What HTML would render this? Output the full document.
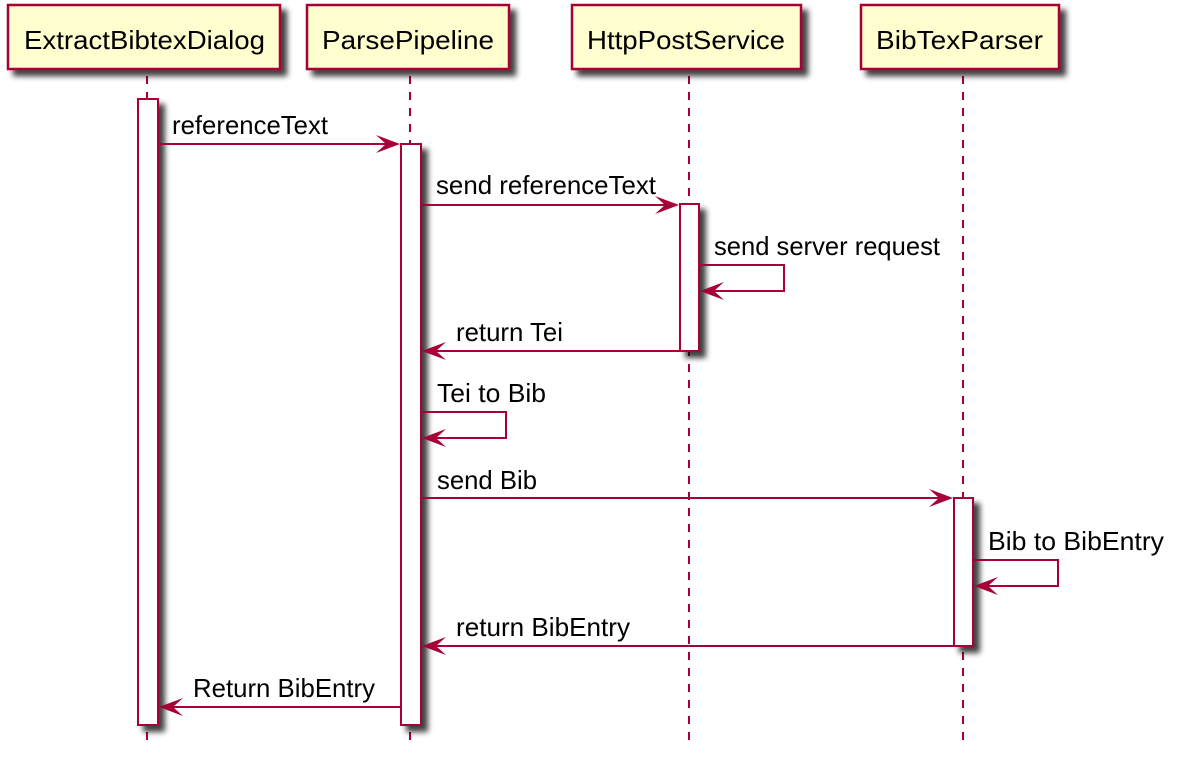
<!DOCTYPE html>
<html><head><meta charset="utf-8"><style>
html,body{margin:0;padding:0;background:#fff;}
svg{display:block;}
text{font-family:"Liberation Sans",sans-serif;font-size:26px;fill:#000;}
</style></head><body>
<svg width="1186" height="757" viewBox="0 0 1186 757" xmlns="http://www.w3.org/2000/svg">
<defs>
<filter id="sh" x="-50%" y="-50%" width="200%" height="200%">
<feGaussianBlur in="SourceAlpha" stdDeviation="3"/>
<feOffset dx="6" dy="6" result="b"/>
<feComponentTransfer><feFuncA type="linear" slope="0.75"/></feComponentTransfer>
<feMerge><feMergeNode/><feMergeNode in="SourceGraphic"/></feMerge>
</filter>
</defs>
<g stroke="#A80036" stroke-width="2" stroke-dasharray="8,8" fill="none">
<line x1="147" y1="76" x2="147" y2="745"/>
<line x1="410" y1="76" x2="410" y2="745"/>
<line x1="689" y1="76" x2="689" y2="745"/>
<line x1="963" y1="76" x2="963" y2="745"/>
</g>
<g fill="#FEFECE" stroke="#A80036" stroke-width="2.5" filter="url(#sh)">
<rect x="8" y="5" width="272" height="64"/>
<rect x="307" y="5" width="202" height="64"/>
<rect x="572" y="5" width="229" height="64"/>
<rect x="861" y="5" width="198" height="64"/>
</g>
<g style="font-size:27.5px">
<text x="24" y="49" textLength="241" lengthAdjust="spacingAndGlyphs">ExtractBibtexDialog</text>
<text x="322" y="49" textLength="172" lengthAdjust="spacingAndGlyphs">ParsePipeline</text>
<text x="587" y="49" textLength="198" lengthAdjust="spacingAndGlyphs">HttpPostService</text>
<text x="876" y="49" textLength="167" lengthAdjust="spacingAndGlyphs">BibTexParser</text>
</g>
<g fill="#fff" stroke="#A80036" stroke-width="2" filter="url(#sh)">
<rect x="138" y="99" width="20" height="626"/>
<rect x="401" y="144" width="20" height="581"/>
<rect x="680" y="204" width="19" height="147"/>
<rect x="954" y="498" width="19" height="148"/>
</g>
<g stroke="#A80036" stroke-width="2" fill="none">
<line x1="158" y1="144" x2="392" y2="144"/>
<line x1="421" y1="205" x2="671" y2="205"/>
<polyline points="699,265 784,265 784,291 707,291"/>
<line x1="680" y1="351" x2="429" y2="351"/>
<polyline points="421,412 506,412 506,438 429,438"/>
<line x1="421" y1="498" x2="945" y2="498"/>
<polyline points="973,560 1058,560 1058,586 981,586"/>
<line x1="954" y1="646" x2="429" y2="646"/>
<line x1="400" y1="707" x2="166" y2="707"/>
</g>
<g fill="#A80036">
<polygon points="400,144 376,135 386,144 376,153"/>
<polygon points="679,205 655,196 665,205 655,214"/>
<polygon points="953,498 929,489 939,498 929,507"/>
<polygon points="700,291 724,282 714,291 724,300"/>
<polygon points="422,351 446,342 436,351 446,360"/>
<polygon points="422,438 446,429 436,438 446,447"/>
<polygon points="974,586 998,577 988,586 998,595"/>
<polygon points="422,646 446,637 436,646 446,655"/>
<polygon points="159,707 183,698 173,707 183,716"/>
</g>
<g>
<text x="172" y="134" textLength="156" lengthAdjust="spacingAndGlyphs">referenceText</text>
<text x="436" y="194" textLength="220" lengthAdjust="spacingAndGlyphs">send referenceText</text>
<text x="714" y="255" textLength="226" lengthAdjust="spacingAndGlyphs">send server request</text>
<text x="456" y="341" textLength="107" lengthAdjust="spacingAndGlyphs">return Tei</text>
<text x="437" y="402" textLength="109" lengthAdjust="spacingAndGlyphs">Tei to Bib</text>
<text x="437" y="489" textLength="100" lengthAdjust="spacingAndGlyphs">send Bib</text>
<text x="988" y="550" textLength="176" lengthAdjust="spacingAndGlyphs">Bib to BibEntry</text>
<text x="456" y="636" textLength="174" lengthAdjust="spacingAndGlyphs">return BibEntry</text>
<text x="193" y="697" textLength="182" lengthAdjust="spacingAndGlyphs">Return BibEntry</text>
</g>
</svg>
</body></html>
